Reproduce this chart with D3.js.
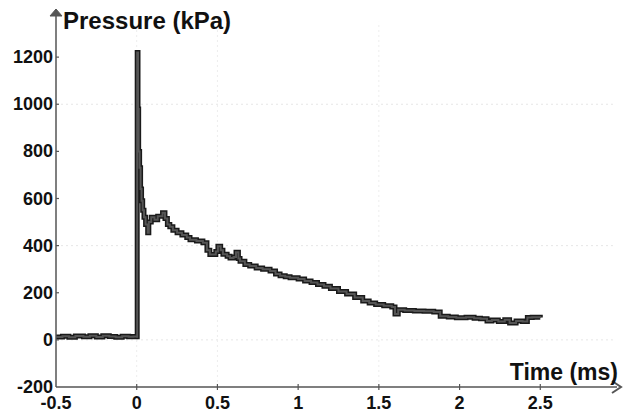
<!DOCTYPE html>
<html>
<head>
  <title>Pressure trace</title>
  <script src="https://d3js.org/d3.v7.min.js"></script>
  <style>
    body { margin: 0; background: #fff; }
    text { font-family: "Liberation Sans", Arial, sans-serif; font-weight: bold; fill: #111; }
  </style>
</head>
<body>
  <svg id="chart"></svg>

  <script>
    // time axis (ms) and pressure (kPa)
    var timeMs = [-0.5, -0.46, -0.42, -0.38, -0.33, -0.29, -0.25, -0.21, -0.17, -0.13, -0.09, -0.05, -0.02, 0.0,
      0.003, 0.008, 0.012, 0.018, 0.024, 0.03, 0.037, 0.045, 0.055, 0.068, 0.075, 0.09, 0.11, 0.13, 0.16, 0.175,
      0.19, 0.205, 0.224, 0.25, 0.28, 0.31, 0.33, 0.37, 0.41, 0.435, 0.453, 0.49, 0.503, 0.52, 0.534, 0.56, 0.578,
      0.6, 0.615, 0.63, 0.64, 0.67, 0.7, 0.74, 0.78, 0.826, 0.86, 0.888, 0.92, 0.95, 1.0, 1.04, 1.08, 1.12, 1.16,
      1.2, 1.25, 1.3, 1.35, 1.4, 1.44, 1.48, 1.53, 1.58, 1.6, 1.62, 1.66, 1.72, 1.78, 1.84, 1.88, 1.93, 1.98, 2.04,
      2.09, 2.13, 2.17, 2.2, 2.24, 2.28, 2.31, 2.35, 2.39, 2.42, 2.45, 2.5];
    var pressureKPa = [12, 15, 11, 16, 13, 17, 12, 18, 14, 11, 15, 13, 14, 13,
      1220, 980, 800, 730, 640, 590, 550, 520, 490, 455, 500, 520, 510, 525, 540, 515,
      490, 480, 465, 455, 445, 435, 425, 420, 412, 380, 362, 375, 397, 380, 363, 355, 348,
      352, 372, 345, 334, 320, 313, 305, 300, 292, 280, 272, 268, 264, 258, 250, 243, 235, 228,
      218, 205, 195, 180, 165, 157, 150, 145, 140, 110, 128, 125, 123, 122, 118, 100, 97, 94, 96,
      92, 90, 80, 84, 78, 85, 72, 80, 78, 95, 96, 95];

    var xTicks = [-0.5, 0, 0.5, 1, 1.5, 2, 2.5];
    var yTicks = [-200, 0, 200, 400, 600, 800, 1000, 1200];
    // only these grid lines survive on the scan
    var gridX = [0, 0.5, 1.5];
    var gridY = [0, 400, 1000];

    var width = 627, height = 412;

    var svg = d3.select("#chart")
      .attr("width", width)
      .attr("height", height);

    var x = d3.scaleLinear().domain([-0.5, 3]).range([56, 621]);
    var y = d3.scaleLinear().domain([-200, 1400]).range([387, 10]);

    // faint dotted grid
    svg.append("g").selectAll("line.gy")
      .data(gridY).enter().append("line")
      .attr("x1", x(-0.5)).attr("x2", x(2.95))
      .attr("y1", function(d) { return y(d); }).attr("y2", function(d) { return y(d); })
      .attr("stroke", "#e6e6e6").attr("stroke-width", 1).attr("stroke-dasharray", "2,3");
    svg.append("g").selectAll("line.gx")
      .data(gridX).enter().append("line")
      .attr("x1", function(d) { return x(d); }).attr("x2", function(d) { return x(d); })
      .attr("y1", y(-200)).attr("y2", y(1350))
      .attr("stroke", "#ededed").attr("stroke-width", 1).attr("stroke-dasharray", "2,3");

    // the trace
    var points = timeMs.map(function(t, i) { return [t, pressureKPa[i]]; });
    var line = d3.line()
      .x(function(d) { return x(d[0]); })
      .y(function(d) { return y(d[1]); })
      .curve(d3.curveStepAfter);

    svg.append("path").datum(points)
      .attr("d", line)
      .attr("fill", "none").attr("stroke", "#1a1a1a")
      .attr("stroke-width", 5).attr("stroke-linejoin", "miter");
    svg.append("path").datum(points)
      .attr("d", line)
      .attr("fill", "none").attr("stroke", "#555")
      .attr("stroke-width", 2);

    // axes
    var axisColor = "#555";
    svg.append("line")
      .attr("x1", x(-0.5)).attr("x2", 617)
      .attr("y1", y(-200)).attr("y2", y(-200))
      .attr("stroke", axisColor).attr("stroke-width", 1.5);
    svg.append("path")
      .attr("d", "M612,381 L621,387 L612,393")
      .attr("fill", "none").attr("stroke", axisColor).attr("stroke-width", 2);

    svg.append("line")
      .attr("x1", x(-0.5)).attr("x2", x(-0.5))
      .attr("y1", y(-200)).attr("y2", 13)
      .attr("stroke", axisColor).attr("stroke-width", 1.5);
    svg.append("path")
      .attr("d", "M50,16 L56,9 L62,16 Z")
      .attr("fill", axisColor).attr("stroke", axisColor).attr("stroke-width", 1);

    // tick marks
    svg.append("g").selectAll("line")
      .data(xTicks.slice(1)).enter().append("line")
      .attr("x1", function(d) { return x(d); }).attr("x2", function(d) { return x(d); })
      .attr("y1", y(-200) - 3).attr("y2", y(-200) + 3)
      .attr("stroke", axisColor).attr("stroke-width", 1.2);
    svg.append("g").selectAll("line")
      .data(yTicks.slice(1)).enter().append("line")
      .attr("x1", x(-0.5)).attr("x2", x(-0.5) + 3)
      .attr("y1", function(d) { return y(d); }).attr("y2", function(d) { return y(d); })
      .attr("stroke", axisColor).attr("stroke-width", 1.2);

    // tick labels
    svg.append("g").selectAll("text")
      .data(yTicks).enter().append("text")
      .attr("x", 53)
      .attr("y", function(d) { return y(d) + 6; })
      .attr("text-anchor", "end")
      .style("font-size", "18px")
      .text(function(d) { return d; });
    svg.append("g").selectAll("text")
      .data(xTicks).enter().append("text")
      .attr("x", function(d) { return x(d); })
      .attr("y", 409)
      .attr("text-anchor", "middle")
      .style("font-size", "18px")
      .text(function(d) { return d; });

    // axis titles
    svg.append("text")
      .attr("x", 63).attr("y", 29)
      .style("font-size", "24px")
      .text("Pressure (kPa)");
    svg.append("text")
      .attr("x", 618).attr("y", 380)
      .attr("text-anchor", "end")
      .style("font-size", "23px")
      .text("Time (ms)");
  </script>
</body>
</html>
